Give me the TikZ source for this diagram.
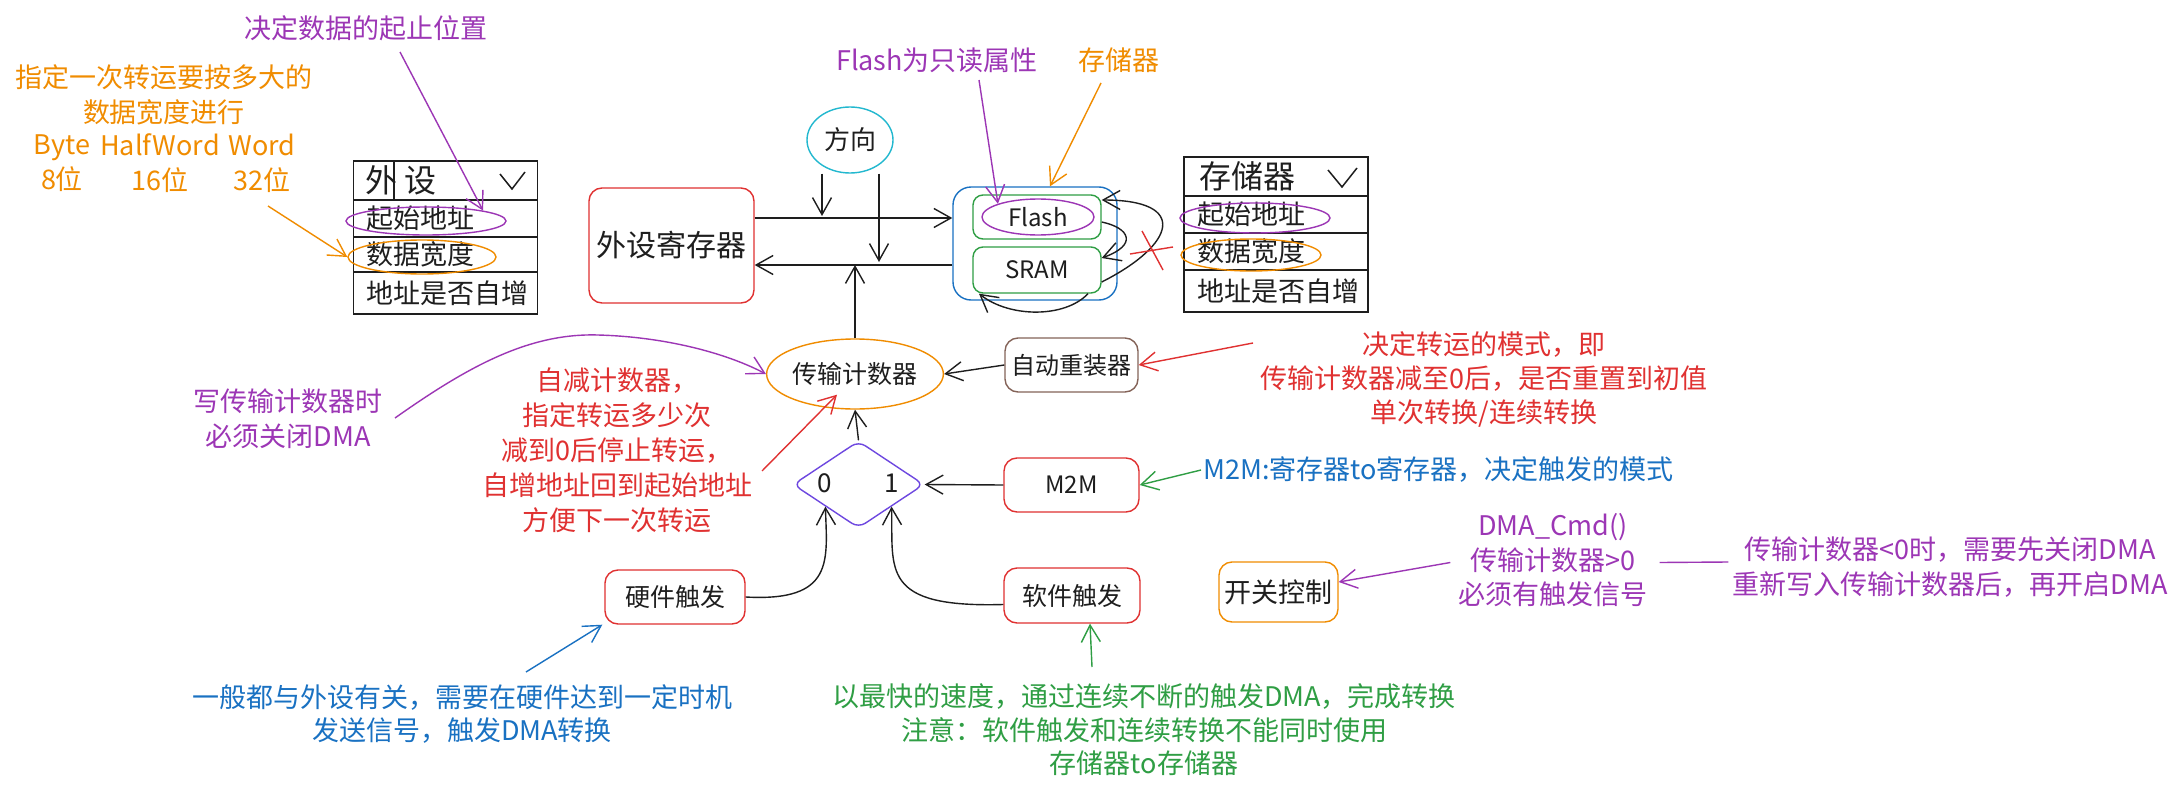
\documentclass[tikz,border=0pt]{standalone}
\usepackage{fontspec}
\usetikzlibrary{arrows.meta,shapes.geometric,calc}
\newfontfamily\cjk{Noto Sans CJK SC}
\definecolor{cred}{HTML}{E03131}
\definecolor{corange}{HTML}{F08C00}
\definecolor{cpurple}{HTML}{9C36B5}
\definecolor{cblue}{HTML}{1971C2}
\definecolor{cgreen}{HTML}{2F9E44}
\definecolor{ccyan}{HTML}{22B8CF}
\definecolor{cbrown}{HTML}{846358}
\definecolor{cviolet}{HTML}{6E48E0}
\definecolor{cblack}{HTML}{1E1E1E}
\begin{document}
\begin{tikzpicture}[x=1pt,y=-1pt,
  every node/.style={inner sep=0pt, text=cblack},
  tx/.style={font=\cjk\fontsize{27}{35}\selectfont, align=center},
  lbl/.style={font=\cjk\fontsize{#1}{#1}\selectfont},
  rbox/.style={draw, rounded corners=13pt, line width=1.4pt},
  cell/.style={draw=cblack, line width=1.6pt, minimum width=184pt},
  arr/.style={line width=1.4pt, draw=cblack, -{Straight Barb[length=17pt,width=19pt]}},
  ln/.style={line width=1.4pt, draw=cblack}
]
\fill[white] (0,0) rectangle (2182,792);
\useasboundingbox (0,0) rectangle (2182,792);

% ---------- main nodes ----------
\node[rbox, draw=cred, minimum width=165pt, minimum height=115pt, lbl=30] (per) at (671.5,245.5) {\raisebox{3pt}{外设寄存器}};
\node[ellipse, draw=ccyan, line width=1.4pt, minimum width=86pt, minimum height=66pt, lbl=26] (dir) at (850,140) {方向};
\node[rbox, draw=cblue, rounded corners=18pt, minimum width=164pt, minimum height=113pt] (mem) at (1035,243.5) {};
\node[rbox, draw=cgreen, rounded corners=10pt, minimum width=128pt, minimum height=44pt] (flash) at (1037,217) {};
\node[rbox, draw=cgreen, rounded corners=10pt, minimum width=128pt, minimum height=46pt, lbl=24] (sram) at (1037,270) {SRAM};
\node[ellipse, draw=cpurple, line width=1.4pt, minimum width=112pt, minimum height=36pt, lbl=24] (flashell) at (1038,217) {Flash};

\node[ellipse, draw=corange, line width=1.4pt, minimum width=136pt, minimum height=70pt, lbl=25] (cnt) at (855,374) {传输计数器};
\node[rbox, draw=cbrown, minimum width=133pt, minimum height=54pt, lbl=24] (reload) at (1071.5,365) {自动重装器};
\node[diamond, draw=cviolet, line width=1.4pt, minimum width=131pt, minimum height=87pt, rounded corners=8pt] (dia) at (858.5,484.5) {};
\node[lbl=26] (z0) at (825,483) {0};
\node[lbl=26] (z1) at (892,483) {1};
\node[rbox, draw=cred, minimum width=135pt, minimum height=54pt, lbl=24] (m2m) at (1071.5,485) {M2M};
\node[rbox, draw=cred, minimum width=136pt, minimum height=55pt, lbl=25] (soft) at (1072,595.5) {软件触发};
\node[rbox, draw=cred, minimum width=140pt, minimum height=54pt, lbl=25] (hard) at (675,597) {硬件触发};
\node[rbox, draw=corange, minimum width=119pt, minimum height=60pt, lbl=27] (sw) at (1278.5,592) {开关控制};

% ---------- tables ----------
\node[cell, minimum height=39pt] (t1h) at (445.5,180.5) {};
\node[cell, minimum height=37pt] (t1r1) at (445.5,218.5) {};
\node[cell, minimum height=35pt] (t1r2) at (445.5,254.5) {};
\node[cell, minimum height=42pt] (t1r3) at (445.5,293) {};
\node[lbl=32, anchor=west] (t1ht) at ([xshift=13pt]t1h.west) {外\hspace{7pt}设};
\node[lbl=27, anchor=west] (t1a) at ([xshift=14pt]t1r1.west) {起始地址};
\node[lbl=27, anchor=west] (t1b) at ([xshift=14pt]t1r2.west) {数据宽度};
\node[lbl=27, anchor=west] (t1c) at ([xshift=14pt]t1r3.west) {地址是否自增};
\draw[line width=1.2pt, cblack] (394,162) -- (394,199);
\draw[line width=1.5pt, cblack] (500,174) -- (512,189) -- (525,172);

\node[cell, minimum height=39pt] (t2h) at (1276,176.5) {};
\node[cell, minimum height=37pt] (t2r1) at (1276,214.5) {};
\node[cell, minimum height=37pt] (t2r2) at (1276,251.5) {};
\node[cell, minimum height=42pt] (t2r3) at (1276,291) {};
\node[lbl=32, anchor=west] (t2ht) at ([xshift=16pt]t2h.west) {存储器};
\node[lbl=27, anchor=west] (t2a) at ([xshift=14pt]t2r1.west) {起始地址};
\node[lbl=27, anchor=west] (t2b) at ([xshift=14pt]t2r2.west) {数据宽度};
\node[lbl=27, anchor=west] (t2c) at ([xshift=14pt]t2r3.west) {地址是否自增};
\draw[line width=1.5pt, cblack] (1328,170) -- (1342,187) -- (1357,168);

\node[ellipse, draw=cpurple, line width=1.4pt, minimum width=160pt, minimum height=28pt] (t1e1) at (426,221) {};
\node[ellipse, draw=corange, line width=1.4pt, minimum width=148pt, minimum height=34pt] (t1e2) at (422,257) {};
\node[ellipse, draw=cpurple, line width=1.4pt, minimum width=150pt, minimum height=30pt] (t2e1) at (1255,218) {};
\node[ellipse, draw=corange, line width=1.4pt, minimum width=140pt, minimum height=32pt] (t2e2) at (1251,255) {};

% ---------- annotation texts ----------
\node[tx, text=cpurple] (n1) at (366,28) {决定数据的起止位置};
\node[tx, text=corange] (n2) at (164,94.5) {指定一次转运要按多大的\\数据宽度进行};
\node[tx, text=corange] (n2a) at (62,163.5) {Byte\\8位};
\node[tx, text=corange] (n2b) at (160,163.5) {HalfWord\\16位};
\node[tx, text=corange] (n2c) at (262,163.5) {Word\\32位};
\node[tx, text=cpurple] (n3) at (937,60) {Flash为只读属性};
\node[tx, text=corange] (n4) at (1119,60) {存储器};
\node[tx, text=cpurple] (n5) at (288,418.5) {写传输计数器时\\必须关闭DMA};
\node[tx, text=cred] (n6) at (617,450) {自减计数器，\\指定转运多少次\\减到0后停止转运，\\自增地址回到起始地址\\方便下一次转运};
\node[tx, text=cred, font=\cjk\fontsize{27}{34}\selectfont] (n7) at (1484,379.5) {决定转运的模式，即\\传输计数器减至0后，是否重置到初值\\单次转换/连续转换};
\node[tx, text=cblue, anchor=west] (n8) at (1203,470) {M2M:寄存器to寄存器，决定触发的模式};
\node[tx, text=cpurple, font=\cjk\fontsize{27}{34.5}\selectfont] (n9) at (1553,560.5) {DMA\_Cmd()\\传输计数器>0\\必须有触发信号};
\node[tx, text=cpurple] (n10) at (1950,567) {传输计数器<0时，需要先关闭DMA\\重新写入传输计数器后，再开启DMA};
\node[tx, text=cblue, font=\cjk\fontsize{27}{33.5}\selectfont] (n11) at (462,714) {一般都与外设有关，需要在硬件达到一定时机\\发送信号，触发DMA转换};
\node[tx, text=cgreen, font=\cjk\fontsize{27}{33.5}\selectfont] (n12) at (1144,730) {以最快的速度，通过连续不断的触发DMA，完成转换\\注意：软件触发和连续转换不能同时使用\\存储器to存储器};

% ---------- coordinates ----------
\coordinate (yT) at (0,218);
\coordinate (yB) at (0,265);
\coordinate (d1) at (822,216);
\coordinate (d2) at (879,262);
\coordinate (s1) at (400,52);
\coordinate (s2) at (268,206);
\coordinate (s3) at (979,80);
\coordinate (s4) at (1101,83);
\coordinate (w1) at (395,418);
\coordinate (r1) at (762,471);
\coordinate (r2) at (1253,343);
\coordinate (b1) at (526,672);
\coordinate (g1) at (1092,667);

% ---------- black connectors ----------
\draw[arr] (per.east |- yT) -- (mem.west |- yT);
\draw[arr] (mem.west |- yB) -- (per.east |- yB);
\draw[arr] (dir.south -| d1) -- (d1);
\draw[arr] (dir.south -| d2) -- (d2);
\draw[arr] (cnt.north) -- (cnt.north |- yB);
\draw[arr] (reload.west) -- (cnt.east);
\draw[arr] (dia.north) -- (cnt.south);
\draw[arr] (m2m.west) -- (dia.east);
\draw[arr] ([yshift=-9pt]soft.west) .. controls (880,608) and (893,570) .. (dia.south east);
\draw[arr] (hard.east) .. controls (835,602) and (827,560) .. (dia.south west);
\draw[arr] ([yshift=-5pt]flash.east) .. controls (1130,228) and (1138,245) .. ([yshift=12pt]sram.east);
\draw[arr] ([yshift=-12pt]sram.east) .. controls (1175,245) and (1190,200) .. ([yshift=17pt]flash.east);
\draw[arr] ([xshift=51pt]sram.south) .. controls (1065,318) and (1010,318) .. ([xshift=-58pt]sram.south);
\draw[line width=1.4pt, cred] (1142,231) -- (1163,270);
\draw[line width=1.4pt, cred] (1130,254) -- (1173,247);

% ---------- annotation connectors ----------
\draw[arr, draw=cpurple] (s1) -- (t1e1.north east);
\draw[arr, draw=corange] (s2) -- (t1e2.west);
\draw[arr, draw=cpurple] (s3) -- (flashell.north west);
\draw[arr, draw=corange] (s4) -- ([xshift=15pt]mem.north);
\draw[arr, draw=cpurple] (w1) .. controls (470,365) and (530,333) .. (598,335) .. controls (670,337) and (730,355) .. (cnt.west);
\draw[arr, draw=cred] (r1) -- ([xshift=-18pt,yshift=15pt]cnt.south);
\draw[arr, draw=cred] (r2) -- (reload.east);
\draw[arr, draw=cgreen] ([xshift=-2pt]n8.west) -- (m2m.east);
\draw[arr, draw=cpurple] ([xshift=-8pt,yshift=-2pt]n9.west) -- ([yshift=10pt]sw.east);
\draw[line width=1.4pt, cpurple] ([xshift=-4pt,yshift=5pt]n10.west) -- ([xshift=12pt,yshift=-2pt]n9.east);
\draw[arr, draw=cblue] (b1) -- ([xshift=-2pt]hard.south west);
\draw[arr, draw=cgreen] (g1) -- ([xshift=18pt]soft.south);
\end{tikzpicture}
\end{document}
